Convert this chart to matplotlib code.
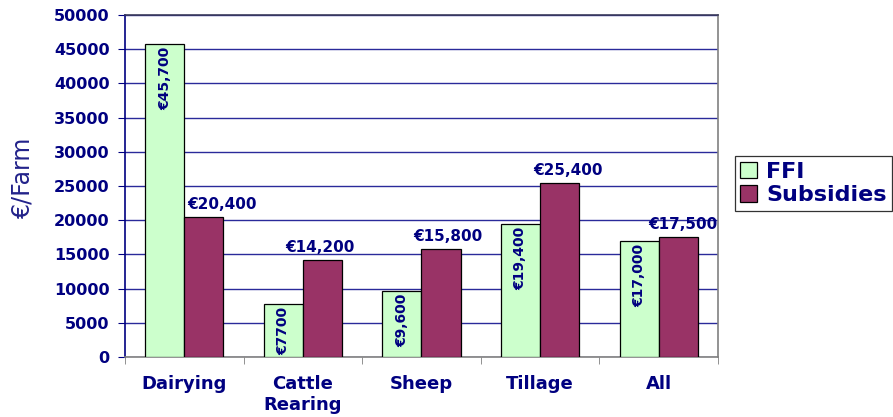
import matplotlib
matplotlib.use("Agg")
import matplotlib.pyplot as plt
import numpy as np

# ── data ──────────────────────────────────────────────────────────────────────
categories = ["Dairying", "Cattle\nRearing", "Sheep", "Tillage", "All"]
ffi = [45700, 7700, 9600, 19400, 17000]
subsidies = [20400, 14200, 15800, 25400, 17500]
ffi_labels = ["€45,700", "€7700", "€9,600", "€19,400", "€17,000"]
sub_labels = ["€20,400", "€14,200", "€15,800", "€25,400", "€17,500"]
sub_dx = [13, -2, 5, 6, 3]   # label nudges (pt), as placed in the original

NAVY = "#000080"
GREEN = "#CCFFCC"
PLUM = "#993366"

plt.rcParams["font.family"] = ["DejaVu Sans"]

fig = plt.figure(figsize=(8.93, 4.17), dpi=100)
ax = fig.add_axes([0.140, 0.144, 0.664, 0.820])

x = np.arange(len(categories))
w = 0.33
b1 = ax.bar(x - w / 2, ffi, w, color=GREEN, edgecolor="black", linewidth=0.9,
            label="FFI", zorder=3)
b2 = ax.bar(x + w / 2, subsidies, w, color=PLUM, edgecolor="black", linewidth=0.9,
            label="Subsidies", zorder=3)

for xi, v, s in zip(x - w / 2, ffi, ffi_labels):
    ax.annotate(s, (xi, v), xytext=(0, -2), textcoords="offset points",
                rotation=90, ha="center", va="top", fontsize=10,
                fontweight="bold", color=NAVY, zorder=4, annotation_clip=False)
for xi, v, s, dx in zip(x + w / 2, subsidies, sub_labels, sub_dx):
    ax.annotate(s, (xi, v), xytext=(dx, 5.8), textcoords="offset points",
                ha="center", va="baseline", fontsize=11,
                fontweight="bold", color=NAVY, zorder=4)

ax.set_xlim(-0.5, len(categories) - 0.5)
ax.set_ylim(0, 50000)
ax.set_yticks(np.arange(0, 50001, 5000))
ax.yaxis.grid(True, color="#2a2a9a", linewidth=1.0, zorder=0)
ax.set_axisbelow(True)

ax.set_xticks(x)
ax.set_xticklabels(categories, fontsize=13, fontweight="bold", color=NAVY,
                   linespacing=1.2)
ax.set_xticks(np.arange(-0.5, len(categories)), minor=True)
ax.tick_params(axis="x", which="major", length=0, pad=13)
ax.tick_params(axis="x", which="minor", length=5, color="#808080", direction="out")
ax.tick_params(axis="y", length=5, color=NAVY, direction="out", pad=6,
               labelsize=11.5, labelcolor=NAVY)
for t in ax.get_yticklabels():
    t.set_fontweight("bold")

ax.set_ylabel("€/Farm", fontsize=17, color="#22228a")
ax.yaxis.set_label_coords(-0.153, 0.526)

ax.spines["left"].set_color(NAVY)
ax.spines["bottom"].set_color("#808080")
ax.spines["top"].set_color("#3a3a5a")
ax.spines["right"].set_color("#808080")
for sp in ax.spines.values():
    sp.set_linewidth(1.2)

leg = fig.legend(handles=[b1, b2], loc="upper left", bbox_to_anchor=(0.823, 0.625),
                 frameon=True, fancybox=False, edgecolor="black",
                 prop={"weight": "bold", "size": 16}, handlelength=0.75,
                 handleheight=0.75, handletextpad=0.4, borderpad=0.25,
                 labelspacing=0.15, borderaxespad=0)
leg.get_frame().set_linewidth(0.9)
for t in leg.get_texts():
    t.set_color(NAVY)

fig.savefig("out.png", dpi=100)
